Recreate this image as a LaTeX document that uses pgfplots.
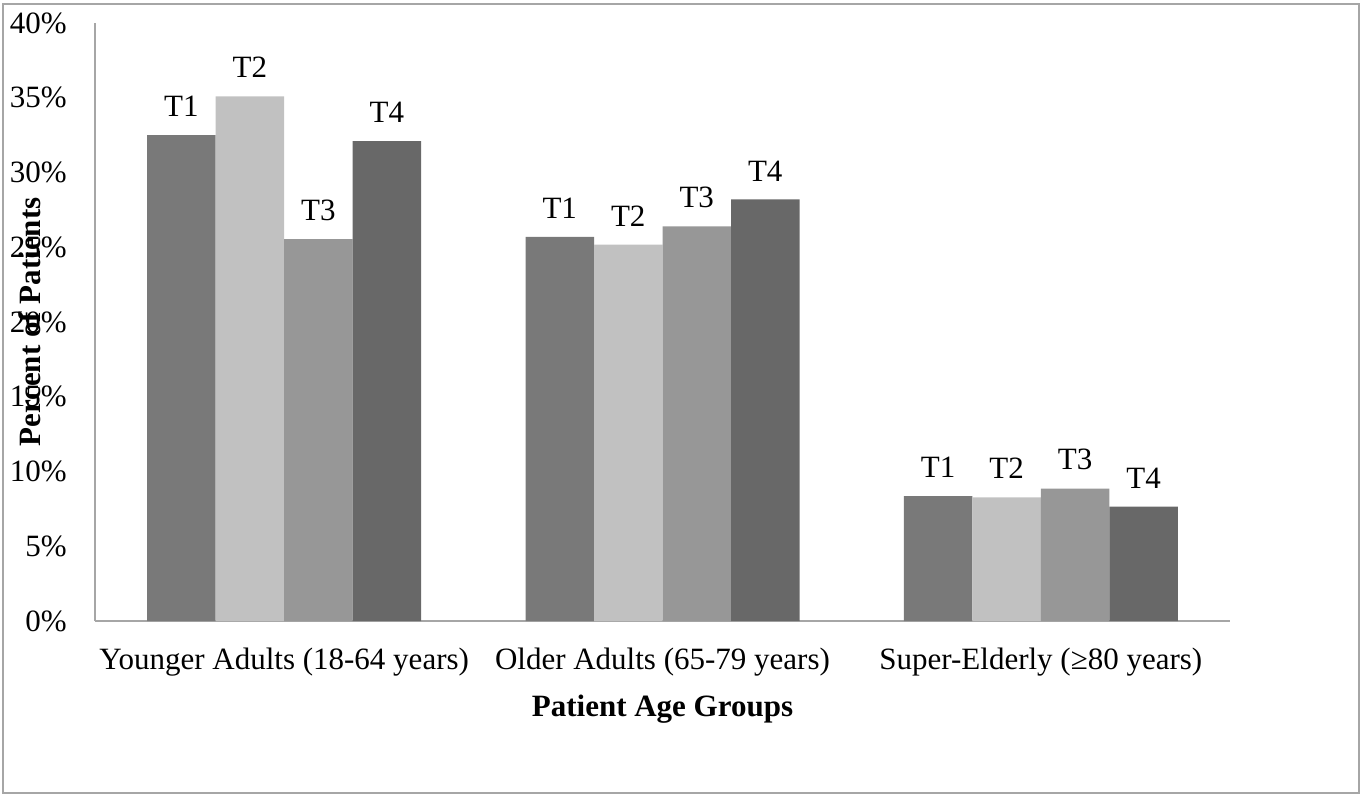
\documentclass[border=0pt]{standalone}
\usepackage{fontspec}
\setmainfont{Liberation Serif}
\usepackage{pgfplots}
\pgfplotsset{compat=1.18}
\definecolor{cT1}{HTML}{797979}
\definecolor{cT2}{HTML}{C1C1C1}
\definecolor{cT3}{HTML}{979797}
\definecolor{cT4}{HTML}{686868}
\definecolor{axgray}{HTML}{A6A6A6}
\begin{document}
\begin{tikzpicture}
\useasboundingbox (-47.5pt,-88.5pt) rectangle (635pt,310.5pt);
\draw[axgray, line width=1pt] (-46pt,-86pt) rectangle (632pt,308.5pt);
\begin{axis}[
  at={(0,0)}, anchor=south west,
  scale only axis, width=567.5pt, height=299pt,
  ybar=0pt, bar width=34.25pt,
  xmin=-0.5, xmax=2.5, ymin=0, ymax=40,
  axis x line*=bottom, axis y line*=left,
  axis line style={axgray, line width=1pt, -},
  xtick={0,1,2},
  xticklabels={Younger Adults (18-64 years), Older Adults (65-79 years), Super-Elderly (≥80 years)},
  ytick={0,5,...,40},
  major tick length=0pt,
  /pgf/number format/assume math mode=true,
  yticklabel={\pgfmathprintnumber{\tick}\%},
  tick label style={font=\fontsize{15.5}{18}\selectfont, inner sep=0pt},
  yticklabel style={anchor=east, xshift=-14pt},
  xticklabel style={anchor=north, yshift=-13.5pt},
  xlabel={Patient Age Groups},
  ylabel={Percent of Patients},
  label style={font=\fontsize{15.5}{18}\selectfont\bfseries, inner sep=0pt},
  xlabel style={at={(axis description cs:0.5,0)}, anchor=north, yshift=-37pt},
  ylabel style={at={(axis description cs:-0.0573,0.5)}, anchor=center, rotate=0},
  every node near coord/.append style={font=\fontsize{15.5}{18}\selectfont, anchor=south, inner sep=0pt, yshift=9pt, text=black},
  clip=false,
]
\addplot[fill=cT1, draw=none, nodes near coords={T1}] coordinates {(0,32.5) (1,25.7) (2,8.36)};
\addplot[fill=cT2, draw=none, nodes near coords={T2}] coordinates {(0,35.1) (1,25.17) (2,8.27)};
\addplot[fill=cT3, draw=none, nodes near coords={T3}] coordinates {(0,25.55) (1,26.4) (2,8.85)};
\addplot[fill=cT4, draw=none, nodes near coords={T4}] coordinates {(0,32.1) (1,28.2) (2,7.65)};
\end{axis}
\end{tikzpicture}
\end{document}
